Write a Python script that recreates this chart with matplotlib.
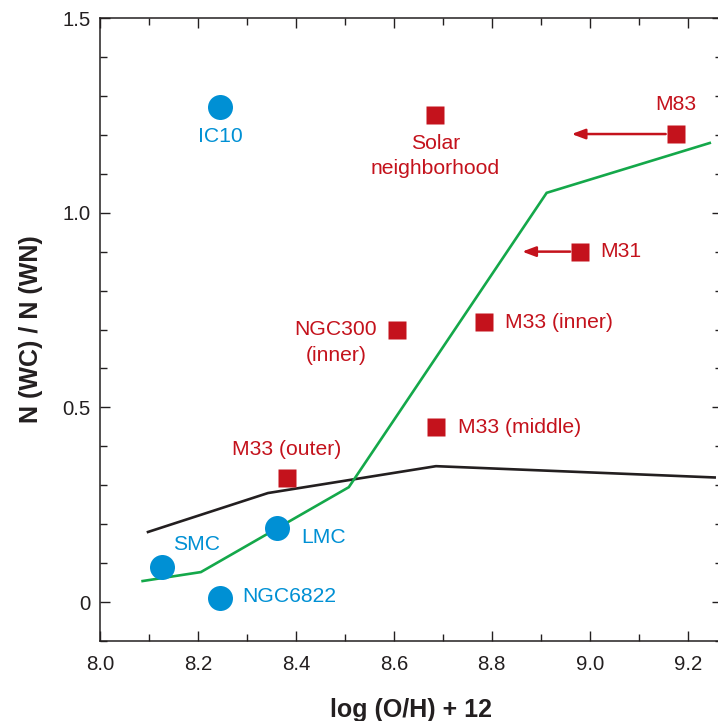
import matplotlib
matplotlib.use('Agg')
import matplotlib.pyplot as plt
from matplotlib.ticker import MultipleLocator

plt.rcParams['font.family'] = ['Liberation Sans', 'DejaVu Sans']

BLUE = '#0090d4'
RED = '#c4121c'
GREEN = '#14a84a'
BLACK = '#231f20'

# galaxies with blue circles
blue_names = ['IC10', 'SMC', 'LMC', 'NGC6822']
blue_x = [8.245, 8.127, 8.362, 8.245]
blue_y = [1.271, 0.09, 0.19, 0.01]

# galaxies with red squares
red_names = ['Solar\nneighborhood', 'M83', 'M31', 'NGC300\n(inner)',
             'M33 (inner)', 'M33 (middle)', 'M33 (outer)']
red_x = [8.685, 9.176, 8.98, 8.607, 8.784, 8.686, 8.382]
red_y = [1.251, 1.202, 0.90, 0.70, 0.72, 0.45, 0.318]

# upper limits on metallicity (arrow tail, arrow head)
arrow_names = ['M83', 'M31']
arrow_from = [9.155, 8.96]
arrow_to = [8.963, 8.862]

# model curves
black_x = [8.098, 8.343, 8.686, 9.255]
black_y = [0.18, 0.28, 0.349, 0.32]
green_x = [8.087, 8.206, 8.508, 8.912, 9.245]
green_y = [0.054, 0.077, 0.295, 1.051, 1.179]

fig = plt.figure(figsize=(7.18, 7.21), dpi=100)
ax = fig.add_axes([100 / 718, 80 / 721, 622 / 718, 623 / 721])

ax.plot(black_x, black_y, color=BLACK, lw=1.9, solid_joinstyle='miter')
ax.plot(green_x, green_y, color=GREEN, lw=1.9, solid_joinstyle='miter')

for name, x0, x1 in zip(arrow_names, arrow_from, arrow_to):
    y = red_y[red_names.index(name)]
    ax.annotate('', xy=(x1, y), xytext=(x0, y),
                arrowprops=dict(arrowstyle='-|>,head_length=0.8,head_width=0.3',
                                color=RED, lw=1.8, shrinkA=0, shrinkB=0))

ax.plot(blue_x, blue_y, 'o', color=BLUE, ms=18, mec='none', zorder=5)
ax.plot(red_x, red_y, 's', color=RED, ms=12.5, mec='none', zorder=5)

# label offsets in pixels relative to the marker
blue_lab = {
    'IC10': (0, -29, 'center'),
    'SMC': (11, 23, 'left'),
    'LMC': (24, -9, 'left'),
    'NGC6822': (22, 2, 'left'),
}
red_lab = {
    'Solar\nneighborhood': (0, -41, 'center'),
    'M83': (0, 30, 'center'),
    'M31': (20, 0, 'left'),
    'NGC300\n(inner)': (-20, -13, 'right'),
    'M33 (inner)': (21, -1, 'left'),
    'M33 (middle)': (22, -1, 'left'),
    'M33 (outer)': (0, 29, 'center'),
}
for names, xs, ys, labs, col in [(blue_names, blue_x, blue_y, blue_lab, BLUE),
                                 (red_names, red_x, red_y, red_lab, RED)]:
    for n, x, y in zip(names, xs, ys):
        dx, dy, ha = labs[n]
        ax.annotate(n, (x, y), xytext=(dx * 0.72, dy * 0.72),
                    textcoords='offset points', ha=ha, va='center',
                    color=col, fontsize=15.2, linespacing=1.45,
                    multialignment='center')

ax.set_xlim(8.0, 9.27)
ax.set_ylim(-0.1, 1.5)
ax.xaxis.set_minor_locator(MultipleLocator(0.1))
ax.yaxis.set_minor_locator(MultipleLocator(0.1))
ax.set_xticks([8.0, 8.2, 8.4, 8.6, 8.8, 9.0, 9.2])
ax.set_xticklabels(['8.0', '8.2', '8.4', '8.6', '8.8', '9.0', '9.2'])
ax.set_yticks([0, 0.5, 1.0, 1.5])
ax.set_yticklabels(['0', '0.5', '1.0', '1.5'])
ax.tick_params(which='both', direction='in', top=True, right=True,
               width=1, color=BLACK, labelsize=14.7, labelcolor=BLACK)
ax.tick_params(which='major', length=7)
ax.tick_params(which='minor', length=5)
ax.tick_params(axis='x', pad=10)
ax.tick_params(axis='y', pad=7)
for s in ax.spines.values():
    s.set_linewidth(1.1)
    s.set_color(BLACK)

ax.set_xlabel('log (O/H) + 12', fontsize=18, fontweight='bold',
              color=BLACK, labelpad=17)
ax.set_ylabel('N (WC) / N (WN)', fontsize=18, fontweight='bold',
              color=BLACK, labelpad=14)

fig.savefig('out.png', dpi=100)
